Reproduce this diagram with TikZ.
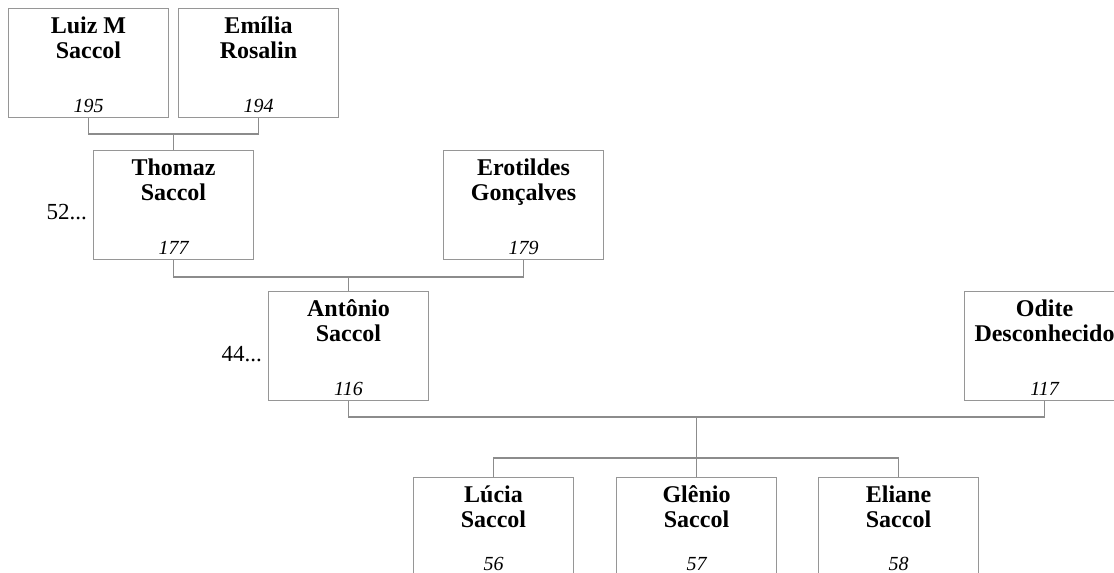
\documentclass[tikz,border=0pt]{standalone}
\usepackage{fontspec}
\setmainfont{Liberation Serif}
\usetikzlibrary{calc}
\definecolor{boxline}{RGB}{150,150,150}
\definecolor{connline}{RGB}{140,140,140}
\tikzset{
  pbox/.style={draw=boxline, line width=1pt, minimum width=160pt, minimum height=109pt, anchor=north west, inner sep=0pt, fill=white},
  namet/.style={anchor=base, inner sep=0pt, font=\fontsize{24}{25}\selectfont\bfseries},
  numt/.style={anchor=base, inner sep=0pt, font=\fontsize{20}{21}\selectfont\itshape},
  sidet/.style={anchor=base east, inner sep=0pt, font=\fontsize{23}{25}\selectfont},
  conn/.style={draw=connline, line width=1.2pt}
}
% #1 name, #2 left, #3 top, #4 line 1, #5 line 2, #6 number, #7 number baseline below top
\newcommand\PersonBox[7]{%
  \node[pbox] (#1) at (#2,-#3) {};
  \node[namet] (#1-name) at ([yshift=-25pt]#1.north) {\parbox[t]{220pt}{\centering #4\\#5}};
  \node[numt] (#1-num) at ([yshift=-#7pt]#1.north) {#6};
}
\begin{document}
\begin{tikzpicture}[x=1pt,y=1pt]
\useasboundingbox (0,0) rectangle (1114,-573);
\PersonBox{luiz}{8}{8}{Luiz M}{Saccol}{195}{104}
\PersonBox{emilia}{178}{8}{Emília}{Rosalin}{194}{104}
\PersonBox{thomaz}{93}{150}{Thomaz}{Saccol}{177}{104}
\PersonBox{erotildes}{443}{150}{Erotildes}{Gonçalves}{179}{104}
\PersonBox{antonio}{268}{291}{Antônio}{Saccol}{116}{104}
\PersonBox{odite}{964}{291}{Odite}{Desconhecido}{117}{104}
\PersonBox{lucia}{413}{477}{Lúcia}{Saccol}{56}{93}
\PersonBox{glenio}{616}{477}{Glênio}{Saccol}{57}{93}
\PersonBox{eliane}{818}{477}{Eliane}{Saccol}{58}{93}
\node[sidet] (more1) at (87,-219) {52...};
\node[sidet] (more2) at (262,-361) {44...};
% connectors
\draw[conn] (luiz.south) -- ++(0,-16) -| (emilia.south);
\coordinate (m1) at ($(luiz.south)!0.5!(emilia.south)+(0,-16)$);
\draw[conn] (m1) -- (thomaz.north);
\draw[conn] (thomaz.south) -- ++(0,-17) -| (erotildes.south);
\coordinate (m2) at ($(thomaz.south)!0.5!(erotildes.south)+(0,-17)$);
\draw[conn] (m2) -- (antonio.north);
\draw[conn] (antonio.south) -- ++(0,-16) -| (odite.south);
\coordinate (m3) at ($(antonio.south)!0.5!(odite.south)+(0,-16)$);
\draw[conn] (m3) -- (glenio.north);
\draw[conn] (lucia.north) -- ++(0,19) -| (eliane.north);
\end{tikzpicture}
\end{document}
